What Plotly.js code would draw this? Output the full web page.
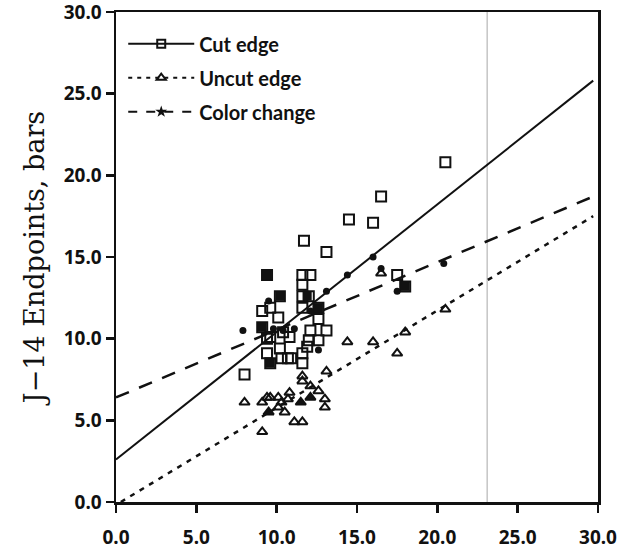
<!DOCTYPE html>
<html>
<head>
<meta charset="utf-8">
<script src="https://cdn.plot.ly/plotly-3.0.1.min.js"></script>
<style>html,body{margin:0;padding:0;background:#fff;}#chart{width:631px;height:552px;}</style>
</head>
<body>
<div id="chart"></div>
<script>
// Cut edge (open squares)
const cutX = [20.5,16.5,14.5,16.0,11.7,13.1,17.5,11.6,12.1,11.6,11.6,12.0,11.6,12.6,12.6,13.1,12.1,12.6,12.0,11.6,10.7,10.9,10.3,11.6,10.2,9.4,9.1,9.6,10.1,9.1,9.6,10.4,9.4,10.8,10.2,11.9,9.6,8.0,9.4,18.0];
const cutY = [20.8,18.7,17.3,17.1,16.0,15.3,13.9,13.9,13.9,13.3,12.6,12.6,11.9,11.9,11.2,10.5,10.5,9.9,9.9,9.1,8.8,8.8,8.8,8.5,12.6,13.9,11.7,11.9,11.3,10.7,10.1,10.4,10.0,10.1,9.4,9.5,8.5,7.8,9.1,13.2];
// Uncut edge (open triangles)
const uncutX = [20.5,18.0,17.5,16.0,14.4,16.5,13.1,11.6,11.6,12.1,12.6,13.0,13.0,8.0,9.1,9.4,9.6,10.1,10.3,10.7,10.8,9.5,10.1,10.5,11.1,11.6,11.5,12.1,9.1];
const uncutY = [11.8,10.4,9.1,9.8,9.8,14.0,8.0,7.7,7.4,7.1,6.8,6.3,5.8,6.1,6.1,6.4,6.4,6.4,6.1,6.3,6.7,5.5,5.8,5.5,4.9,4.9,6.1,6.4,4.3];
// Color change (filled)
const colorX = [20.4,16.5,16.0,17.5,14.4,13.1,12.1,10.4,7.9,9.5,9.8,11.1,9.6,9.1,9.4,10.2,18.0,12.6,11.9,12.6];
const colorY = [14.6,14.3,15.0,12.9,13.9,12.9,11.7,10.5,10.5,12.3,10.6,10.6,8.5,10.7,13.9,12.6,13.2,11.9,12.6,9.3];
// Overlapping filled squares / filled triangles
const fillSqX = [9.4,10.2,18.0,12.6,9.1,9.6,11.9];
const fillSqY = [13.9,12.6,13.2,11.9,10.7,8.5,12.6];
const fillTriX = [9.5,11.5,12.1];
const fillTriY = [5.5,6.1,6.4];
// Regression lines (endpoints)
const cutFitX = [0.0, 29.7];
const cutFitY = [2.6, 25.8];
const uncutFitX = [0.3, 29.7];
const uncutFitY = [0.0, 17.5];
const colorFitX = [0.0, 29.7];
const colorFitY = [6.4, 18.7];
const xTicks = [0,5,10,15,20,25,30];
const yTicks = [0,5,10,15,20,25,30];

const K = '#111';
const traces = [
  {x: cutFitX, y: cutFitY, mode: 'lines', line: {color: K, width: 2}, showlegend: false, hoverinfo: 'skip'},
  {x: uncutFitX, y: uncutFitY, mode: 'lines', line: {color: K, width: 2.5, dash: '5px,6px'}, showlegend: false, hoverinfo: 'skip'},
  {x: colorFitX, y: colorFitY, mode: 'lines', line: {color: K, width: 2.5, dash: '14px,11px'}, showlegend: false, hoverinfo: 'skip'},
  {x: cutX, y: cutY, mode: 'markers', marker: {symbol: 'square-open', size: 10, color: K, line: {width: 2, color: K}}, showlegend: false},
  {x: uncutX, y: uncutY, mode: 'markers', marker: {symbol: 'triangle-up-open', size: 9, color: K, line: {width: 2, color: K}}, showlegend: false},
  {x: colorX, y: colorY, mode: 'markers', marker: {symbol: 'circle', size: 7, color: K}, showlegend: false},
  {x: fillSqX, y: fillSqY, mode: 'markers', marker: {symbol: 'square', size: 9, color: K}, showlegend: false},
  {x: fillTriX, y: fillTriY, mode: 'markers', marker: {symbol: 'triangle-up', size: 9, color: K}, showlegend: false},
  // legend entries
  {x: [null], y: [null], name: 'Cut edge', legendgroup: 'a', mode: 'lines+markers', line: {color: K, width: 2}, marker: {symbol: 'square-open', size: 8, color: K, line: {width: 2, color: K}}},
  {x: [null], y: [null], name: 'Uncut edge', legendgroup: 'b', mode: 'lines+markers', line: {color: K, width: 2, dash: '4px,5px'}, marker: {symbol: 'triangle-up-open', size: 8, color: K, line: {width: 2, color: K}}},
  {x: [null], y: [null], name: 'Color change', legendgroup: 'c', mode: 'lines+markers', line: {color: K, width: 2, dash: '9px,9px'}, marker: {symbol: 'star', size: 9, color: K}}
];

const tickFont = {family: 'Noto Sans, DejaVu Sans, sans-serif', size: 19, color: K, weight: 'bold'};
const layout = {
  width: 631, height: 552,
  margin: {l: 116, r: 33, t: 12, b: 50},
  paper_bgcolor: '#fff', plot_bgcolor: '#fff',
  showlegend: true,
  legend: {x: 0.015, y: 0.975, xanchor: 'left', yanchor: 'top', bgcolor: 'rgba(0,0,0,0)',
    font: {family: 'Lato, Noto Sans, sans-serif', size: 20, color: K, weight: 'bold'},
    itemwidth: 66, tracegroupgap: 5},
  xaxis: {range: [0, 30], tickvals: xTicks, tickformat: '.1f', showgrid: false, zeroline: false,
    showline: true, linecolor: K, linewidth: 2.5, mirror: true, ticks: 'outside', ticklen: 8, tickwidth: 2.5, tickcolor: K,
    tickfont: tickFont, ticklabelstandoff: 9, ticklabeloverflow: 'allow'},
  yaxis: {range: [0, 30], tickvals: yTicks, tickformat: '.1f', showgrid: false, zeroline: false,
    showline: true, linecolor: K, linewidth: 2.5, mirror: true, ticks: 'outside', ticklen: 8, tickwidth: 2.5, tickcolor: K,
    tickfont: tickFont, ticklabeloverflow: 'allow',
    title: {text: 'J\u221214 Endpoints, bars', font: {family: 'DejaVu Serif, Liberation Serif, serif', size: 27, color: K}, standoff: 12}},
  shapes: [
    {type: 'line', xref: 'x', yref: 'paper', x0: 23.1, x1: 23.1, y0: 0, y1: 1, line: {color: 'rgba(0,0,0,0.35)', width: 1}}
  ]
};
Plotly.newPlot('chart', traces, layout, {displayModeBar: false, staticPlot: true});
</script>
</body>
</html>
